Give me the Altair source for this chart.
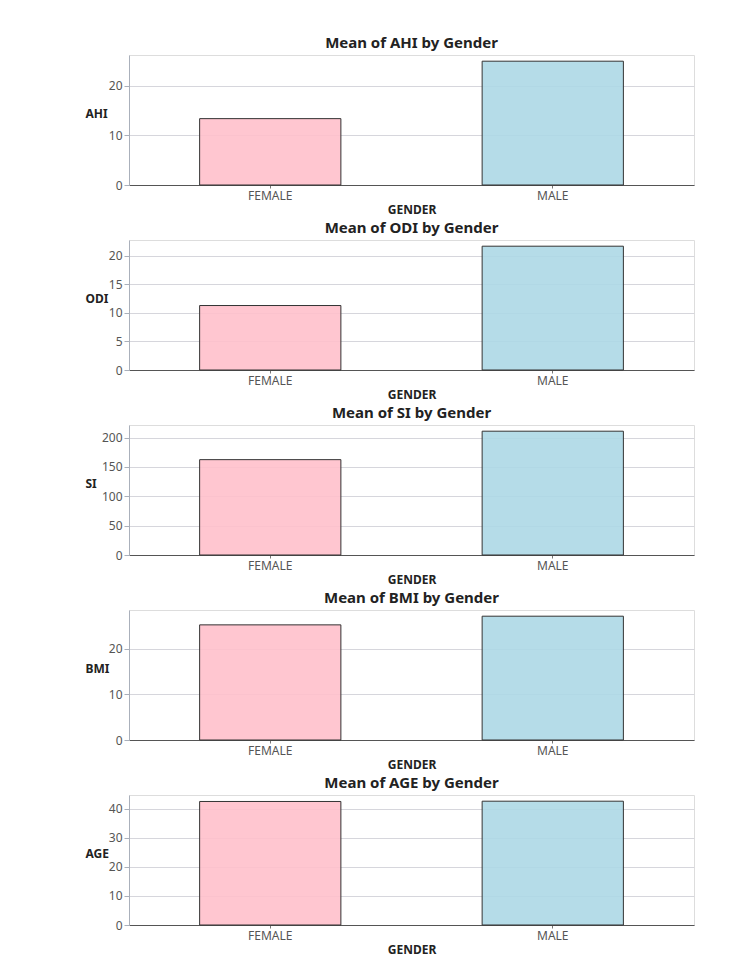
import altair as alt
import pandas as pd

metrics = ["AHI", "ODI", "SI", "BMI", "AGE"]
genders = ["FEMALE", "MALE"]
female_means = [13.4, 11.3, 162.5, 25.2, 42.5]
male_means = [25.0, 21.7, 211.0, 27.1, 42.6]
tick_values = [
    [0, 10, 20],
    [0, 5, 10, 15, 20],
    [0, 50, 100, 150, 200],
    [0, 10, 20],
    [0, 10, 20, 30, 40],
]
bar_colors = ["#FFC0CB", "#ADD8E6"]

FONT = "Noto Sans"

panels = []
for i, m in enumerate(metrics):
    df = pd.DataFrame({"GENDER": genders, m: [female_means[i], male_means[i]]})
    top = max(female_means[i], male_means[i]) * 1.05
    c = (
        alt.Chart(
            df,
            title=alt.TitleParams(
                f"Mean of {m} by Gender",
                font=FONT, fontSize=15, fontWeight="bold", color="#222222",
                anchor="middle", offset=4,
            ),
        )
        .mark_bar(stroke="#333333", strokeWidth=1, fillOpacity=0.9)
        .encode(
            x=alt.X(
                "GENDER:N",
                sort=genders,
                scale=alt.Scale(paddingInner=0.5, paddingOuter=0.25),
                axis=alt.Axis(
                    title="GENDER", labelAngle=0, grid=False,
                    domainColor="#555555", tickColor="#777777", tickSize=3,
                    labelFont=FONT, labelFontSize=12, labelColor="#555555",
                    titleFont=FONT, titleFontSize=12, titleFontWeight="bold",
                    titleColor="#222222", titlePadding=3, labelPadding=2,
                ),
            ),
            y=alt.Y(
                f"{m}:Q",
                scale=alt.Scale(domain=[0, top], nice=False, zero=True),
                axis=alt.Axis(
                    values=tick_values[i], grid=True, gridColor="#d6d6dc",
                    domainColor="#aab0bb", tickColor="#aab0bb", tickSize=5,
                    labelFont=FONT, labelFontSize=12, labelColor="#555555",
                    titleFont=FONT, titleFontSize=12, titleFontWeight="bold",
                    titleColor="#222222", titleAngle=0, titleX=-44, titleY=58,
                    titleAlign="left", titleBaseline="middle",
                ),
            ),
            color=alt.Color(
                "GENDER:N",
                scale=alt.Scale(domain=genders, range=bar_colors),
                legend=None,
            ),
        )
        .properties(width=565, height=130)
    )
    panels.append(c)

chart = (
    alt.vconcat(*panels, spacing=4)
    .properties(padding={"left": 84, "top": 35, "right": 5, "bottom": 5})
    .configure_view(stroke="#999999", strokeWidth=1)
    .configure(background="white")
)

chart.save("out.html", embed_options={"renderer": "svg", "actions": False})
